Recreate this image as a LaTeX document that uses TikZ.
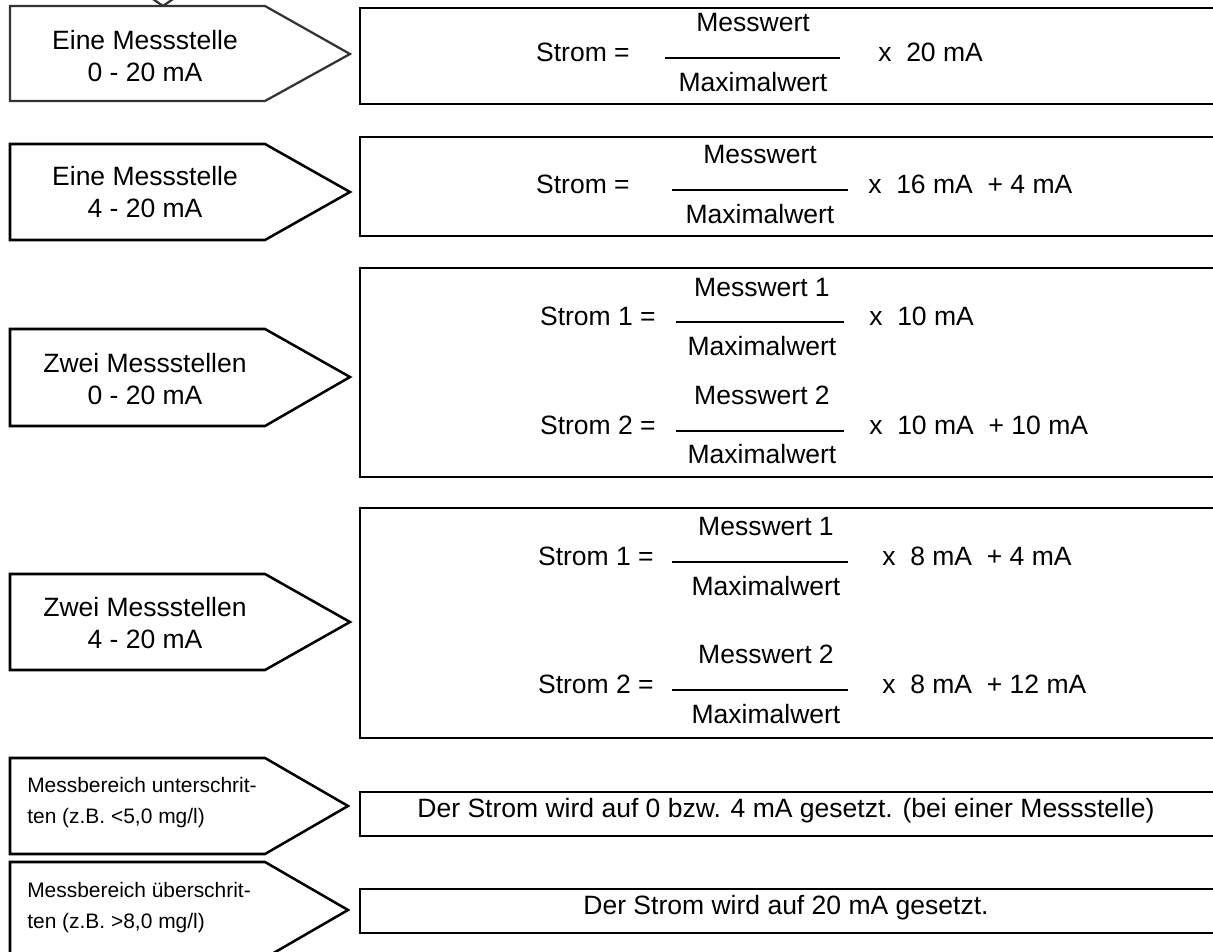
\documentclass[tikz,border=0pt]{standalone}
\usepackage{fontspec}
\setmainfont{Liberation Sans}
\usetikzlibrary{positioning}

\begin{document}
\begin{tikzpicture}[x=0.025cm, y=-0.025cm,
    pfeil/.style={draw=black, line width=1.8pt, line join=miter, fill=white},
    grau/.style={draw=black!80, line width=1.6pt},
    kasten/.style={draw=black, line width=1.4pt},
    bruch/.style={draw=black, line width=1.4pt},
    lbl/.style={align=center, inner sep=0pt, font=\fontsize{18.85}{22.5}\selectfont},
    klein/.style={align=left, inner sep=0pt, anchor=west, font=\fontsize{14.9}{22}\selectfont},
    txt/.style={inner sep=0pt, anchor=mid, font=\fontsize{18.85}{22.5}\selectfont}
]
\useasboundingbox (0,0) rectangle (1213,952);
\clip (0,0) rectangle (1213,952);

% linke Spalte: Pfeilkaesten
\draw[pfeil, grau] (150,-3) -- (163,6) -- (176,-3);
\draw[pfeil, grau] (10,6) -- (265,6) -- (350,54) -- (265,101) -- (10,101) -- cycle;
\draw[pfeil] (10,144) -- (265,144) -- (350,192) -- (265,240) -- (10,240) -- cycle;
\draw[pfeil] (10,329) -- (265,329) -- (350,377) -- (265,426) -- (10,426) -- cycle;
\draw[pfeil] (10,574) -- (265,574) -- (350,622) -- (265,670) -- (10,670) -- cycle;
\draw[pfeil] (10,758) -- (265,758) -- (348,806) -- (265,854) -- (10,854) -- cycle;
\draw[pfeil] (10,862) -- (265,862) -- (348,910) -- (265,958) -- (10,958) -- cycle;

\node[lbl] (ein020) at (145,56) {Eine Messstelle\\0 - 20 mA};
\node[lbl] (ein420) at (145,192) {Eine Messstelle\\4 - 20 mA};
\node[lbl] (zwei020) at (145,379) {Zwei Messstellen\\0 - 20 mA};
\node[lbl] (zwei420) at (145,623) {Zwei Messstellen\\4 - 20 mA};
\node[klein] (unter) at (27,803) {Messbereich unterschrit-\\ten (z.B. <5,0 mg/l)};
\node[klein] (ueber) at (27,908) {Messbereich überschrit-\\ten (z.B. >8,0 mg/l)};

% rechte Spalte: Formeln
\draw[kasten] (360,8) rectangle (1230,104);
\draw[kasten] (360,137) rectangle (1230,236);
\draw[kasten] (360,268) rectangle (1230,477);
\draw[kasten] (360,508) rectangle (1230,738);
\draw[kasten] (360,792) rectangle (1230,836);
\draw[kasten] (360,889) rectangle (1230,933);

% 0 - 20 mA
\node[txt, anchor=mid east] (s1) at (630,58) {Strom =};
\node[txt] (z1) at (753,28) {Messwert};
\node[txt] (n1) at (753,88) {Maximalwert};
\draw[bruch] (665,58) -- (840,58);
\node[txt, anchor=mid west] (f1) at (878,58) {x~~20 mA};

% 4 - 20 mA
\node[txt, anchor=mid east] (s2) at (630,190) {Strom =};
\node[txt] (z2) at (760,160) {Messwert};
\node[txt] (n2) at (760,220) {Maximalwert};
\draw[bruch] (672,190) -- (848,190);
\node[txt, anchor=mid west] (f2) at (868,190) {x~~16 mA~~+ 4 mA};

% zwei Messstellen 0 - 20 mA
\node[txt, anchor=mid east] (s31) at (656,322) {Strom 1 =};
\node[txt] (z31) at (762,293) {Messwert 1};
\node[txt] (n31) at (762,352) {Maximalwert};
\draw[bruch] (676,322) -- (844,322);
\node[txt, anchor=mid west] (f31) at (869,322) {x~~10 mA};
\node[txt, anchor=mid east] (s32) at (656,431) {Strom 2 =};
\node[txt] (z32) at (762,401) {Messwert 2};
\node[txt] (n32) at (762,460) {Maximalwert};
\draw[bruch] (676,431) -- (844,431);
\node[txt, anchor=mid west] (f32) at (869,431) {x~~10 mA~~+ 10 mA};

% zwei Messstellen 4 - 20 mA
\node[txt, anchor=mid east] (s41) at (654,562) {Strom 1 =};
\node[txt] (z41) at (766,532) {Messwert 1};
\node[txt] (n41) at (766,592) {Maximalwert};
\draw[bruch] (672,562) -- (848,562);
\node[txt, anchor=mid west] (f41) at (882,562) {x~~8 mA~~+ 4 mA};
\node[txt, anchor=mid east] (s42) at (654,690) {Strom 2 =};
\node[txt] (z42) at (766,660) {Messwert 2};
\node[txt] (n42) at (766,720) {Maximalwert};
\draw[bruch] (672,690) -- (848,690);
\node[txt, anchor=mid west] (f42) at (882,690) {x~~8 mA~~+ 12 mA};

% Messbereich
\node[txt] (t5) at (786,814) {Der Strom wird auf 0 bzw. 4 mA gesetzt. (bei einer Messstelle)};
\node[txt] (t6) at (786,911) {Der Strom wird auf 20 mA gesetzt.};
\end{tikzpicture}
\end{document}
